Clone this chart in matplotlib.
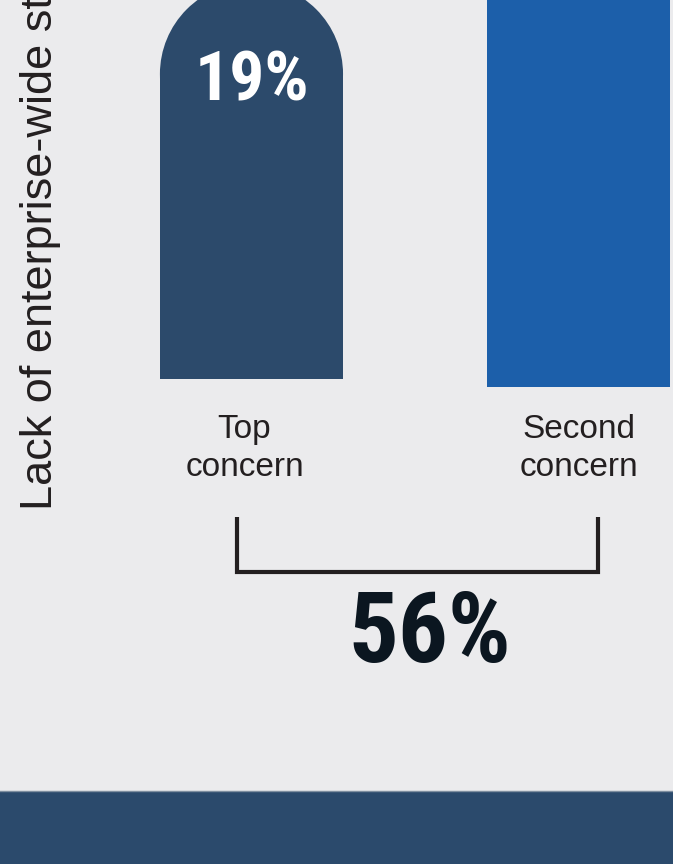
import matplotlib
matplotlib.use("Agg")
import matplotlib.pyplot as plt
from matplotlib.patches import Rectangle, Ellipse
from matplotlib.lines import Line2D

plt.rcParams["font.family"] = ["Liberation Sans", "DejaVu Sans"]

# data
categories = ["Top\nconcern", "Second\nconcern"]
values = [19, 37]          # percent
total_label = "56%"
side_title = "Lack of enterprise-wide strategy"

BG = "#EBEBED"
INK = "#231F20"
BAR_COLORS = ["#2C4A6B", "#1C5FAA"]
BAND = "#2B4A6C"
CONDENSED = ["Roboto Condensed", "Liberation Sans", "DejaVu Sans"]

W, H = 673, 864
fig = plt.figure(figsize=(W / 100, H / 100), dpi=100, facecolor=BG)

# bar axes: baseline sits 379px from the top, scale 20.87 px per percent
base_px = 379
px_per_pct = 20.87
ax = fig.add_axes([0, (H - base_px) / H, 1, base_px / H])
ax.set_facecolor(BG)
ax.set_xlim(-0.769, 1.289)
ax.set_ylim(0, base_px / px_per_pct)
ax.axis("off")

BAR_W = 0.56
bottoms = [0, -0.38]
fig.canvas.draw()
px_x = ax.transData.transform((1, 0))[0] - ax.transData.transform((0, 0))[0]
px_y = ax.transData.transform((0, 1))[1] - ax.transData.transform((0, 0))[1]
r_y = (BAR_W / 2) * px_x / px_y

for i, (v, b) in enumerate(zip(values, bottoms)):
    ax.add_patch(Rectangle((i - BAR_W / 2, b), BAR_W, v - r_y - b,
                           facecolor=BAR_COLORS[i], edgecolor="none", clip_on=False))
    if i == 0:
        # rounded cap on the top concern bar, with its value inside
        ax.add_patch(Ellipse((i, v - r_y), BAR_W, 2 * r_y,
                             facecolor=BAR_COLORS[i], edgecolor="none", clip_on=False))
        ax.annotate(f"{v}%", xy=(i, v), xytext=(0, -85), textcoords="offset points",
                    ha="center", va="baseline", color="white", fontsize=50,
                    fontweight="bold", family=CONDENSED, annotation_clip=False,
                    zorder=5)
    else:
        ax.add_patch(Rectangle((i - BAR_W / 2, v - r_y), BAR_W, r_y,
                               facecolor=BAR_COLORS[i], edgecolor="none", clip_on=False))
    ax.annotate(categories[i], xy=(i, 0), xytext=(-5 if i == 0 else 0, -25),
                textcoords="offset points", ha="center", va="top",
                color=INK, fontsize=24, linespacing=1.3, annotation_clip=False)

# bracket joining the two concerns
bx0, bx1 = 237 / W, 598 / W
by0, by1 = 1 - 517 / H, 1 - 572 / H
fig.add_artist(Line2D([bx0, bx0, bx1, bx1], [by0, by1, by1, by0],
                      transform=fig.transFigure, color=INK, lw=3,
                      solid_joinstyle="miter", solid_capstyle="butt"))
fig.text(430 / W, 1 - 662 / H, total_label, ha="center", va="baseline",
         fontsize=71, fontweight="bold", family=CONDENSED, color="#0B1620")

# rotated side title
fig.text(52 / W, 1 - 510 / H, side_title, rotation=90, rotation_mode="anchor",
         ha="left", va="baseline", fontsize=32.5, color=INK)

# bottom band
fig.add_artist(Rectangle((0, 0), 1, (H - 791) / H, transform=fig.transFigure,
                         facecolor=BAND, edgecolor="none"))
fig.add_artist(Line2D([0, 1], [(H - 791) / H] * 2, transform=fig.transFigure,
                      color="#7F8FA0", lw=1))

fig.savefig("out.png", dpi=100, facecolor=BG)
